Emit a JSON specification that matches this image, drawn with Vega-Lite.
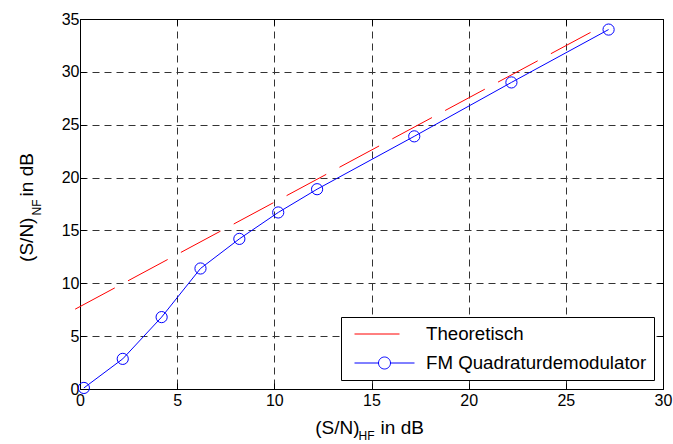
{
  "$schema": "https://vega.github.io/schema/vega-lite/v6.json",
  "width": 583,
  "height": 370,
  "autosize": "none",
  "padding": {"left": 80, "top": 19, "right": 10, "bottom": 55},
  "background": "white",
  "config": {
    "view": {"stroke": null},
    "font": "Liberation Sans",
    "axis": {"labelFont": "Liberation Sans", "titleFont": "Liberation Sans", "labelColor": "black", "titleColor": "black", "titleFontWeight": "normal"},
    "legend": {"labelFont": "Liberation Sans"}
  },
  "datasets": {
    "theory": [
      {"series": "Theoretisch", "x": -0.25, "y": 7.55},
      {"series": "Theoretisch", "x": 26.95, "y": 34.4}
    ],
    "fm": [
      {"series": "FM Quadraturdemodulator", "x": 0.2, "y": 0.1},
      {"series": "FM Quadraturdemodulator", "x": 2.2, "y": 2.85},
      {"series": "FM Quadraturdemodulator", "x": 4.2, "y": 6.8},
      {"series": "FM Quadraturdemodulator", "x": 6.2, "y": 11.4},
      {"series": "FM Quadraturdemodulator", "x": 8.2, "y": 14.2},
      {"series": "FM Quadraturdemodulator", "x": 10.2, "y": 16.7},
      {"series": "FM Quadraturdemodulator", "x": 12.2, "y": 18.9},
      {"series": "FM Quadraturdemodulator", "x": 17.2, "y": 23.9},
      {"series": "FM Quadraturdemodulator", "x": 22.2, "y": 29.0},
      {"series": "FM Quadraturdemodulator", "x": 27.2, "y": 34.0}
    ]
  },
  "resolve": {"axis": {"x": "independent", "y": "independent"}},
  "layer": [
    {
      "data": {"name": "theory"},
      "mark": {"type": "line", "strokeWidth": 1, "strokeDash": [45, 15]},
      "encoding": {
        "x": {"field": "x", "type": "quantitative", "scale": {"domain": [0, 30], "nice": false},
          "axis": {"orient": "bottom", "values": [0, 5, 10, 15, 20, 25, 30], "grid": true, "gridDash": [7, 5], "gridColor": "#333333", "gridOpacity": 1, "gridWidth": 1,
            "ticks": true, "tickSize": -6, "tickColor": "black", "domain": true, "domainColor": "black", "domainWidth": 1,
            "labelFontSize": 16, "labelPadding": 9, "labelFlush": false,
            "title": "(S/N)\u00a0\u00a0\u00a0\u00a0in dB", "titleFontSize": 19, "titleX": 289, "titleY": 44, "titleAlign": "center", "titleBaseline": "alphabetic"}},
        "y": {"field": "y", "type": "quantitative", "scale": {"domain": [0, 35], "nice": false},
          "axis": {"orient": "left", "values": [0, 5, 10, 15, 20, 25, 30, 35], "grid": true, "gridDash": [7, 5], "gridColor": "#333333", "gridOpacity": 1, "gridWidth": 1,
            "ticks": true, "tickSize": -6, "tickColor": "black", "domain": true, "domainColor": "black", "domainWidth": 1,
            "labelFontSize": 16, "labelPadding": 7, "labelFlush": false,
            "title": "(S/N)\u00a0\u00a0\u00a0\u00a0in dB", "titleFontSize": 19, "titleX": -48, "titleY": 188, "titleAngle": 270, "titleAlign": "center", "titleBaseline": "alphabetic"}},
        "color": {"field": "series", "type": "nominal",
          "scale": {"domain": ["Theoretisch", "FM Quadraturdemodulator"], "range": ["#ff0000", "#0000ff"]},
          "legend": {"orient": "bottom-right", "offset": 9, "title": null,
            "fillColor": "white", "strokeColor": "black", "cornerRadius": 0,
            "padding": 7, "labelFontSize": 18.7, "labelColor": "black", "labelOffset": 11, "labelLimit": 400,
            "symbolSize": 3600, "symbolOffset": 6, "clipHeight": 20, "rowPadding": 9,
            "encode": {"symbols": {"update": {
              "shape": {"signal": "datum.value === 'Theoretisch' ? 'M-1,0H0.5' : 'M-1,0H-0.2M0.2,0H1M0.2,0A0.2,0.2 0 1,1 -0.2,0A0.2,0.2 0 1,1 0.2,0'"},
              "fill": {"value": "transparent"},
              "stroke": {"scale": "color", "field": "value"},
              "strokeWidth": {"value": 1},
              "strokeDash": {"value": []},
              "opacity": {"value": 1}
            }}}}}
      }
    },
    {
      "data": {"name": "fm"},
      "mark": {"type": "line", "strokeWidth": 1},
      "encoding": {
        "x": {"field": "x", "type": "quantitative",
          "axis": {"orient": "top", "values": [0, 5, 10, 15, 20, 25, 30], "grid": false, "labels": false, "ticks": true, "tickSize": -6, "tickColor": "black", "domain": true, "domainColor": "black", "title": null}},
        "y": {"field": "y", "type": "quantitative",
          "axis": {"orient": "right", "values": [0, 5, 10, 15, 20, 25, 30, 35], "grid": false, "labels": false, "ticks": true, "tickSize": -6, "tickColor": "black", "domain": true, "domainColor": "black", "title": null}},
        "color": {"field": "series", "type": "nominal"}
      }
    },
    {
      "data": {"name": "fm"},
      "mark": {"type": "point", "shape": "circle", "filled": false, "size": 125, "strokeWidth": 1, "opacity": 1},
      "encoding": {
        "x": {"field": "x", "type": "quantitative",
          "axis": {"orient": "bottom", "grid": false, "labels": false, "ticks": false, "domain": false,
            "title": "HF", "titleFontSize": 12, "titleX": 278, "titleY": 50, "titleAlign": "left", "titleBaseline": "alphabetic"}},
        "y": {"field": "y", "type": "quantitative",
          "axis": {"orient": "left", "grid": false, "labels": false, "ticks": false, "domain": false,
            "title": "NF", "titleFontSize": 12, "titleX": -40, "titleY": 196, "titleAngle": 270, "titleAlign": "left", "titleBaseline": "alphabetic"}},
        "color": {"field": "series", "type": "nominal"}
      }
    }
  ]
}
